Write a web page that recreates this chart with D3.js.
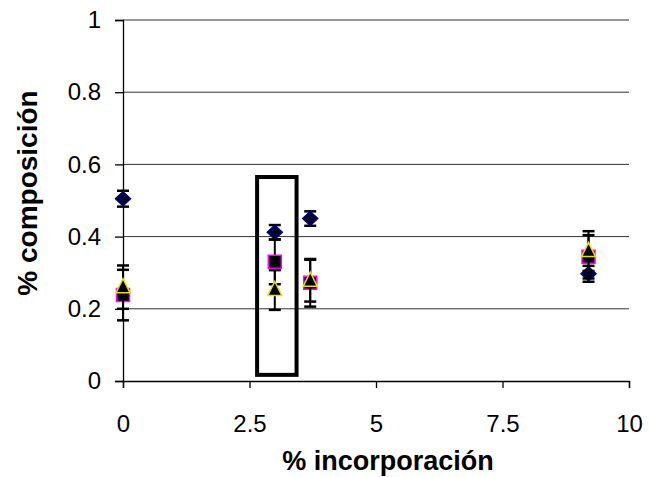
<!DOCTYPE html>
<html>
<head>
<meta charset="utf-8">
<script src="https://cdn.jsdelivr.net/npm/d3@7"></script>
<style>
  body { margin: 0; background: #fff; }
  text { font-family: "Liberation Sans", Arial, sans-serif; }
</style>
</head>
<body>
<div id="chart"></div>
<script>
// x positions (% incorporacion)
var xVals = [0, 3, 3.7, 9.2];
// series values and error (+/-)
var diamondVals = [0.505, 0.412, 0.45, 0.297];
var diamondErr = [0.022, 0.02, 0.02, 0.022];
var squareVals = [0.238, 0.33, 0.272, 0.344];
var squareErr = [0.07, 0.062, 0.066, 0.06];
var triangleVals = [0.26, 0.252, 0.278, 0.36];
var triangleErr = [0.06, 0.055, 0.058, 0.055];
var xTicks = [0, 2.5, 5, 7.5, 10];
var yTicks = [0, 0.2, 0.4, 0.6, 0.8, 1];
// highlighted box around the x=3 group
var boxX = [2.65, 3.43];
var boxY = [0.017, 0.565];

var width = 649, height = 477;
var margin = {left: 123, right: 20, top: 20, bottom: 96};

var svg = d3.select("#chart").append("svg")
	.attr("width", width)
	.attr("height", height);

var x = d3.scaleLinear().domain([0, 10]).range([margin.left, width - margin.right]);
var y = d3.scaleLinear().domain([0, 1]).range([height - margin.bottom, margin.top]);

// gridlines
svg.append("g").selectAll("line")
	.data(yTicks.filter(function(d) { return d > 0; }))
	.enter().append("line")
	.attr("x1", x(0)).attr("x2", x(10))
	.attr("y1", function(d) { return y(d); })
	.attr("y2", function(d) { return y(d); })
	.style("stroke", "#333")
	.style("stroke-width", 1);

// axes
var yAxis = svg.append("g")
	.attr("transform", "translate(" + x(0) + ",0)")
	.call(d3.axisLeft(y).tickValues(yTicks).tickSize(8).tickPadding(14)
		.tickFormat(function(d) { return d; }));
var xAxis = svg.append("g")
	.attr("transform", "translate(0," + y(0) + ")")
	.call(d3.axisBottom(x).tickValues(xTicks).tickSize(7).tickPadding(27)
		.tickFormat(function(d) { return d; }));
[yAxis, xAxis].forEach(function(a) {
	a.select(".domain").style("stroke", "#000").style("stroke-width", 1.3);
	a.selectAll(".tick line").style("stroke", "#000").style("stroke-width", 1.3);
	a.selectAll("text").style("font-size", "24px").style("fill", "#000")
		.style("font-family", "Liberation Sans, Arial, sans-serif");
});

// axis titles
svg.append("text")
	.attr("x", 388)
	.attr("y", 470)
	.attr("text-anchor", "middle")
	.style("font-size", "27px")
	.style("font-weight", "bold")
	.text("% incorporación");
svg.append("text")
	.attr("transform", "translate(37,193) rotate(-90)")
	.attr("text-anchor", "middle")
	.style("font-size", "28px")
	.style("font-weight", "bold")
	.text("% composición");

// highlight box
svg.append("rect")
	.attr("x", x(boxX[0]))
	.attr("y", y(boxY[1]))
	.attr("width", x(boxX[1]) - x(boxX[0]))
	.attr("height", y(boxY[0]) - y(boxY[1]))
	.style("fill", "none")
	.style("stroke", "#000")
	.style("stroke-width", 4);

function series(vals, errs, shape, fill, stroke) {
	var data = vals.map(function(v, i) { return {x: xVals[i], v: v, e: errs[i]}; });
	var g = svg.append("g");
	var eb = g.selectAll(".err").data(data).enter().append("g");
	eb.append("line")
		.attr("x1", function(d) { return x(d.x); })
		.attr("x2", function(d) { return x(d.x); })
		.attr("y1", function(d) { return y(d.v + d.e); })
		.attr("y2", function(d) { return y(d.v - d.e); })
		.style("stroke", "#000").style("stroke-width", 2);
	[1, -1].forEach(function(s) {
		eb.append("line")
			.attr("x1", function(d) { return x(d.x) - 6; })
			.attr("x2", function(d) { return x(d.x) + 6; })
			.attr("y1", function(d) { return y(d.v + s * d.e); })
			.attr("y2", function(d) { return y(d.v + s * d.e); })
			.style("stroke", "#000").style("stroke-width", 2.5);
	});
	g.selectAll(".pt").data(data).enter().append("path")
		.attr("transform", function(d) { return "translate(" + x(d.x) + "," + y(d.v) + ")"; })
		.attr("d", shape)
		.style("fill", fill)
		.style("stroke", stroke)
		.style("stroke-width", 1.5);
}

series(diamondVals, diamondErr, "M0,-7L7.5,0L0,7L-7.5,0Z", "#000033", "#000080");
series(squareVals, squareErr, "M-6.5,-6.5H6.5V6.5H-6.5Z", "#000", "#ff00ff");
series(triangleVals, triangleErr, "M0,-8.5L7,5.5L-7,5.5Z", "#000", "#e6e600");
</script>
</body>
</html>
